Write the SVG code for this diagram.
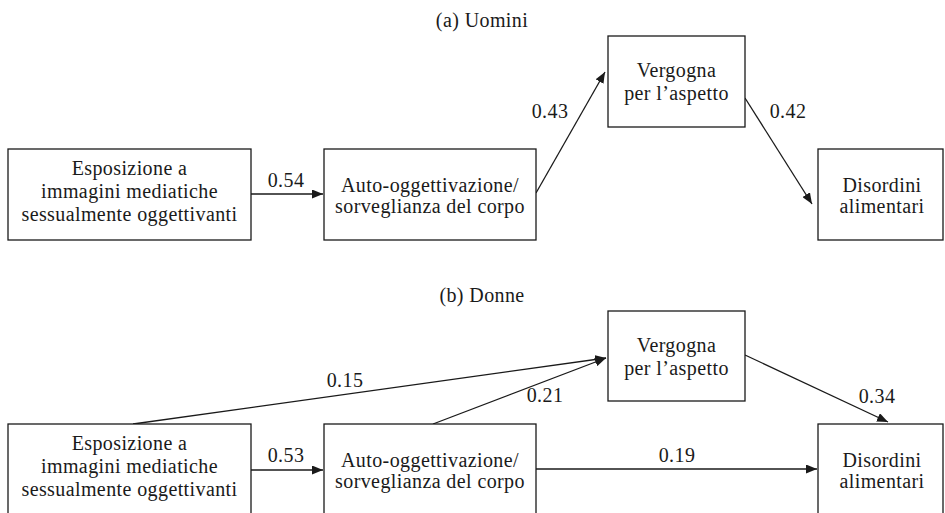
<svg xmlns="http://www.w3.org/2000/svg" width="945" height="513" viewBox="0 0 945 513">
<defs>
<marker id="ah" viewBox="0 0 11 9" refX="11" refY="4.5" markerWidth="11" markerHeight="9" markerUnits="userSpaceOnUse" orient="auto">
<path d="M0,0 L11,4.5 L0,9 Z" fill="#1a1a1a"/>
</marker>
<style>
.box{fill:#fff;stroke:#1a1a1a;stroke-width:1.3}
text{font-family:'Liberation Serif','DejaVu Serif',serif;font-size:20px;fill:#1a1a1a;text-anchor:middle;letter-spacing:0.4px}
.ln{stroke:#1a1a1a;stroke-width:1.3;fill:none}
.arr{marker-end:url(#ah)}
</style>
</defs>
<rect width="945" height="513" fill="#fff"/>
<g font-family="Liberation Serif, DejaVu Serif, serif">
<text x="482" y="27">(a) Uomini</text>
<text x="482" y="302">(b) Donne</text>

<g id="connectors">
<line class="ln arr" x1="251" y1="194" x2="323" y2="194"/>
<text x="286" y="187">0.54</text>
<line class="ln arr" x1="536" y1="193" x2="605" y2="72"/>
<text x="550" y="118">0.43</text>
<line class="ln arr" x1="745" y1="98" x2="812" y2="204"/>
<text x="788" y="118">0.42</text>

<line class="ln arr" x1="251" y1="470" x2="323" y2="470"/>
<text x="286" y="462">0.53</text>
<line class="ln arr" x1="133" y1="424" x2="606" y2="358"/>
<text x="345" y="387">0.15</text>
<line class="ln arr" x1="433" y1="424" x2="606" y2="358"/>
<text x="545" y="402">0.21</text>
<line class="ln arr" x1="536" y1="469" x2="817" y2="469"/>
<text x="677" y="462">0.19</text>
<line class="ln arr" x1="745" y1="355" x2="888" y2="422"/>
<text x="877" y="403">0.34</text>
</g>

<g id="a-esposizione">
<rect class="box" x="8" y="149" width="243" height="91"/>
<text x="129.5" y="175">Esposizione a</text>
<text x="129.5" y="198">immagini mediatiche</text>
<text x="129.5" y="221">sessualmente oggettivanti</text>
</g>
<g id="a-auto">
<rect class="box" x="324" y="149" width="212" height="91"/>
<text x="430" y="192">Auto-oggettivazione/</text>
<text x="430" y="213">sorveglianza del corpo</text>
</g>
<g id="a-vergogna">
<rect class="box" x="608" y="36" width="137" height="91"/>
<text x="676.5" y="77">Vergogna</text>
<text x="676.5" y="100">per l’aspetto</text>
</g>
<g id="a-disordini">
<rect class="box" x="818" y="149" width="125" height="91"/>
<text x="882" y="192">Disordini</text>
<text x="882" y="213">alimentari</text>
</g>

<g id="b-esposizione">
<rect class="box" x="8" y="424" width="243" height="100"/>
<text x="129.5" y="450">Esposizione a</text>
<text x="129.5" y="473">immagini mediatiche</text>
<text x="129.5" y="496">sessualmente oggettivanti</text>
</g>
<g id="b-auto">
<rect class="box" x="324" y="424" width="212" height="100"/>
<text x="430" y="467">Auto-oggettivazione/</text>
<text x="430" y="488">sorveglianza del corpo</text>
</g>
<g id="b-vergogna">
<rect class="box" x="608" y="311" width="137" height="90"/>
<text x="676.5" y="352">Vergogna</text>
<text x="676.5" y="375">per l’aspetto</text>
</g>
<g id="b-disordini">
<rect class="box" x="818" y="424" width="125" height="100"/>
<text x="882" y="467">Disordini</text>
<text x="882" y="488">alimentari</text>
</g>
</g>
</svg>
